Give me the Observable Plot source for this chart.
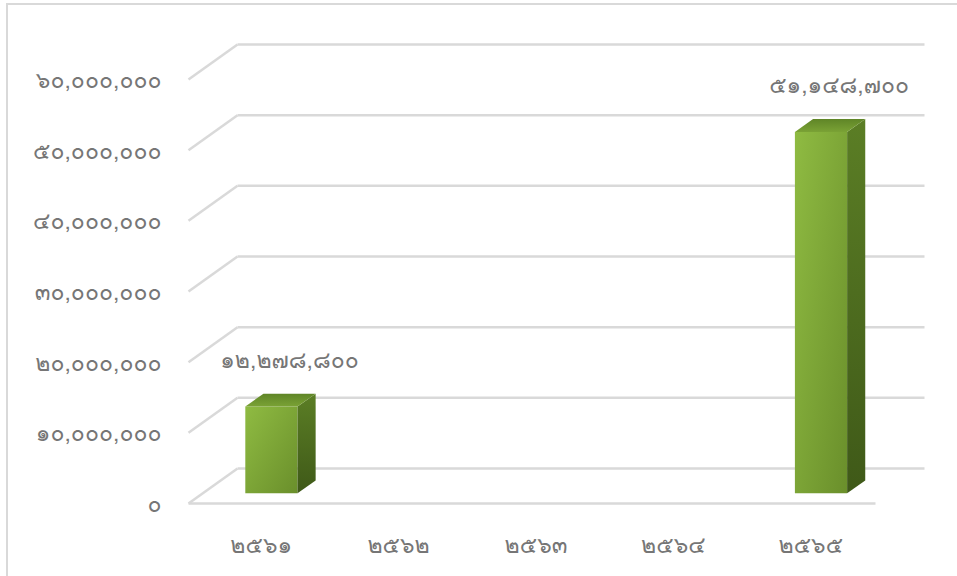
<!DOCTYPE html>
<html><head><meta charset="utf-8">
<script src="https://cdn.jsdelivr.net/npm/d3@7"></script>
<script src="https://cdn.jsdelivr.net/npm/@observablehq/plot@0.6"></script>
<style>
body{margin:0;background:#fff;}
#wrap{position:relative;width:957px;height:576px;overflow:hidden;background:#fff;}
#frame{position:absolute;left:6px;top:3px;width:1000px;height:1000px;border:2px solid #d9d9d9;box-sizing:border-box;}
#chart{position:absolute;left:0;top:0;}
g[aria-label="shadow"]{filter:blur(3px);}
</style></head><body>
<div id="wrap"><div id="frame"></div>
<svg width="0" height="0" style="position:absolute">
<defs>
<linearGradient id="gFront" x1="0" y1="0" x2="1" y2="1">
<stop offset="0" stop-color="#8fbb42"/><stop offset="1" stop-color="#6a8f2b"/>
</linearGradient>
<linearGradient id="gSide" x1="0" y1="0" x2="0" y2="1">
<stop offset="0" stop-color="#5b7e25"/><stop offset="1" stop-color="#3f5918"/>
</linearGradient>
<linearGradient id="gTop" x1="0" y1="1" x2="0" y2="0">
<stop offset="0" stop-color="#7aa235"/><stop offset="1" stop-color="#5f8527"/>
</linearGradient>
</defs></svg>
<div id="chart"></div>
</div>
<script>
// ---- data ----
const years = ["๒๕๖๑", "๒๕๖๒", "๒๕๖๓", "๒๕๖๔", "๒๕๖๕"];
const values = [12278800, 0, 0, 0, 51148700];
const yTicks = [0, 10000000, 20000000, 30000000, 40000000, 50000000, 60000000];

// ---- helpers ----
const thaiDigits = "๐๑๒๓๔๕๖๗๘๙";
const toThai = s => String(s).replace(/[0-9]/g, d => thaiDigits[+d]);
const fmt = n => toThai(d3.format(",")(n));

// ---- 3D geometry (pixels) ----
const X0 = 188, X1 = 875, Y0 = 503, Y1 = 79;
const DEPTH_PX = [49, 35];
const yMax = 60000000;
const xUnit = (X1 - X0) / years.length;
const yUnit = (Y0 - Y1) / yMax;
const depthX = DEPTH_PX[0] / xUnit, depthY = DEPTH_PX[1] / yUnit;
const at = (x, y, d) => ({x: x + d * depthX, y: y + d * depthY});
const BAR_W = 0.38, D0 = 0.29, D1 = 0.66;

// grid lines
const gridBack = yTicks.map(t => ({a: at(0, t, 1), b: at(years.length, t, 1)}));
const gridDiag = yTicks.map(t => ({a: at(0, t, 0), b: at(0, t, 1)}));
const floorFront = [{a: at(0, 0, 0), b: at(years.length, 0, 0)}];

// bar faces
const faceFront = [], faceSide = [], faceTop = [], faceShadow = [], valueLabels = [];
values.forEach((v, i) => {
  if (!(v > 0)) return;
  const c = i + 0.5, l = c - BAR_W / 2, r = c + BAR_W / 2;
  const push = (arr, pts) => pts.forEach(p => arr.push({...p, k: i}));
  push(faceFront, [at(l, 0, D0), at(r, 0, D0), at(r, v, D0), at(l, v, D0)]);
  push(faceSide, [at(r, 0, D0), at(r, 0, D1), at(r, v, D1), at(r, v, D0)]);
  push(faceTop, [at(l, v, D0), at(r, v, D0), at(r, v, D1), at(l, v, D1)]);
  push(faceShadow, [at(l - 0.12, 0, D0 + 0.02), at(r, 0, D0 + 0.02), at(r + 0.15, 0, D1 + 0.12), at(l + 0.05, 0, D1)]);
  valueLabels.push({...at(c, v, D1), v});
});

const gridStyle = {stroke: "#d9d9d9", strokeWidth: 2.5};
const link = (data) => Plot.link(data, {x1: d => d.a.x, y1: d => d.a.y, x2: d => d.b.x, y2: d => d.b.y, ...gridStyle});
const font = "'Garuda', 'Loma', 'Waree', 'Kinnari', 'Norasi', 'Noto Sans Thai', sans-serif";
const textStyle = {fontSize: 23, fill: "#767676"};

const chart = Plot.plot({
  width: 957,
  height: 576,
  marginLeft: 0, marginRight: 0, marginTop: 0, marginBottom: 0,
  style: {background: "transparent", fontFamily: font},
  x: {domain: [0, years.length], range: [X0, X1], axis: null},
  y: {domain: [0, yMax], range: [Y0, Y1], axis: null},
  marks: [
    link(gridBack),
    link(gridDiag),
    link(floorFront),
    Plot.line(faceShadow, {x: "x", y: "y", z: "k", fill: "#333333", fillOpacity: 0.65, stroke: "none", ariaLabel: "shadow"}),
    Plot.line(faceFront, {x: "x", y: "y", z: "k", fill: "url(#gFront)", stroke: "none"}),
    Plot.line(faceSide, {x: "x", y: "y", z: "k", fill: "url(#gSide)", stroke: "none"}),
    Plot.line(faceTop, {x: "x", y: "y", z: "k", fill: "url(#gTop)", stroke: "none"}),
    Plot.text(yTicks, {x: () => 0, y: d => d, text: d => fmt(d), textAnchor: "end", dx: -27, dy: 1, ...textStyle}),
    Plot.text(years, {x: (d, i) => i + 0.5, y: () => 0, text: d => d, dx: 4, dy: 42, ...textStyle}),
    Plot.text(valueLabels, {x: "x", y: "y", text: d => fmt(d.v), dy: -33, ...textStyle})
  ]
});
document.getElementById("chart").appendChild(chart);
</script>
</body></html>
